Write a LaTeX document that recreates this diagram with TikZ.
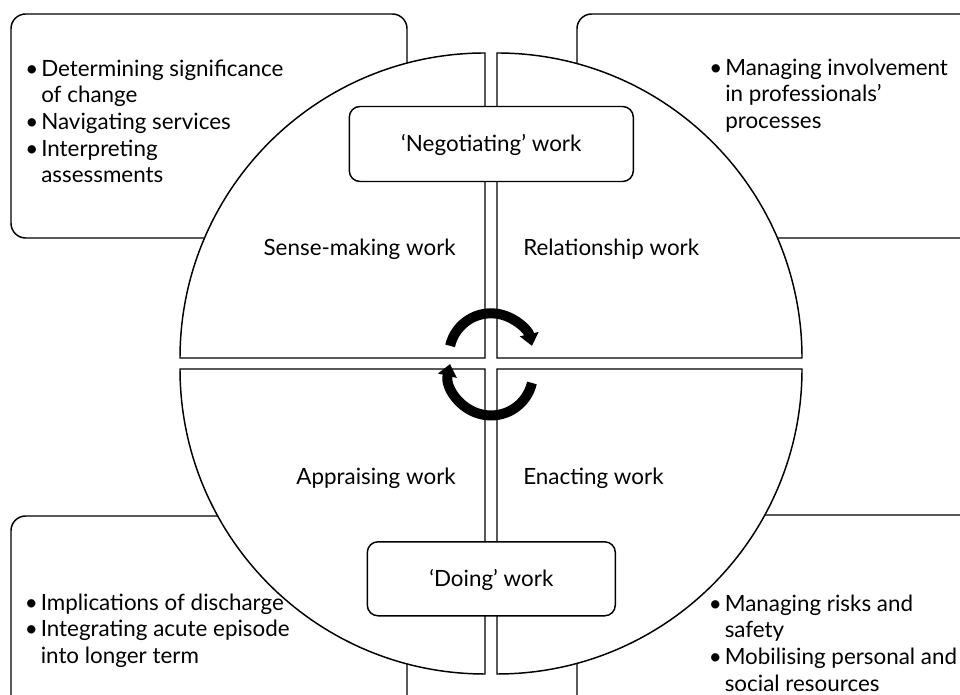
\documentclass[tikz,border=0pt]{standalone}
\usepackage{fontspec}
\setmainfont{Lato}
\usetikzlibrary{arrows.meta}
\newcommand{\lbul}{\makebox[12pt][l]{\textbullet}}
\newcommand{\lind}{\hspace*{12pt}}
\begin{document}
\begin{tikzpicture}[x=0.75pt,y=0.75pt,
  outline/.style={draw=black, line width=1.1pt},
  cornerbox/.style={outline, rounded corners=11pt},
  quad/.style={outline, fill=white, line join=miter},
  tagbox/.style={outline, fill=white, rounded corners=8pt, inner sep=0pt, text height=15.5pt, text depth=4pt},
  lbl/.style={inner sep=0pt},
  blist/.style={inner sep=0pt, anchor=north west, align=left},
  cyc/.style={line width=7.5pt, -{Triangle[width=14pt,length=9pt]}},
  font={\fontsize{16.8pt}{20pt}\selectfont}]
\clip (0,0) rectangle (960,695);
% corner boxes
\draw[cornerbox] (11,457) rectangle (407,681);
\draw[cornerbox] (577,457) rectangle (990,681);
\draw[cornerbox] (11,-30) rectangle (407,179);
\draw[cornerbox] (577,-30) rectangle (990,180);
% quadrants
\draw[quad] (485,337) -- (180,337) arc[start angle=180,end angle=90,radius=305] -- cycle;
\draw[quad] (497,337) -- (497,642) arc[start angle=90,end angle=0,radius=305] -- cycle;
\draw[quad] (485,326) -- (180,326) arc[start angle=180,end angle=270,radius=305] -- cycle;
\draw[quad] (497,326) -- (802,326) arc[start angle=0,end angle=-90,radius=305] -- cycle;
% tag boxes
\node[tagbox, minimum width=213pt, minimum height=56.25pt] (negotiating) at (491.3,551) {‘Negotiating’ work};
\node[tagbox, minimum width=186pt, minimum height=55.5pt] (doing) at (491.3,116.2) {‘Doing’ work};
% quadrant labels
\node[lbl, anchor=base east] (sense) at (456,439) {Sense-making work};
\node[lbl, anchor=base west] (relationship) at (523,439) {Relationship work};
\node[lbl, anchor=base east] (appraising) at (456,210) {Appraising work};
\node[lbl, anchor=base west] (enacting) at (523,210) {Enacting work};
% bullet lists
\node[blist] (tl) at (25,640.3) {\rule{0pt}{16pt}\lbul Determining significance\\ \lind of change\\ \lbul Navigating services\\ \lbul Interpreting\\ \lind assessments};
\node[blist] (tr) at (709,641.3) {\rule{0pt}{16pt}\lbul Managing involvement\\ \lind in professionals’\\ \lind processes};
\node[blist] (bl) at (24.5,106.3) {\rule{0pt}{16pt}\lbul Implications of discharge\\ \lbul Integrating acute episode\\ \lind into longer term};
\node[blist] (br) at (708.5,105.3) {\rule{0pt}{16pt}\lbul Managing risks and\\ \lind safety\\ \lbul Mobilising personal and\\ \lind social resources};
% cycle arrows
\draw[cyc] (491,339.7) ++(167:42) arc[start angle=167,end angle=13,radius=42];
\draw[cyc] (491,321.5) ++(-13:42) arc[start angle=-13,end angle=-193,radius=42];
\end{tikzpicture}
\end{document}
